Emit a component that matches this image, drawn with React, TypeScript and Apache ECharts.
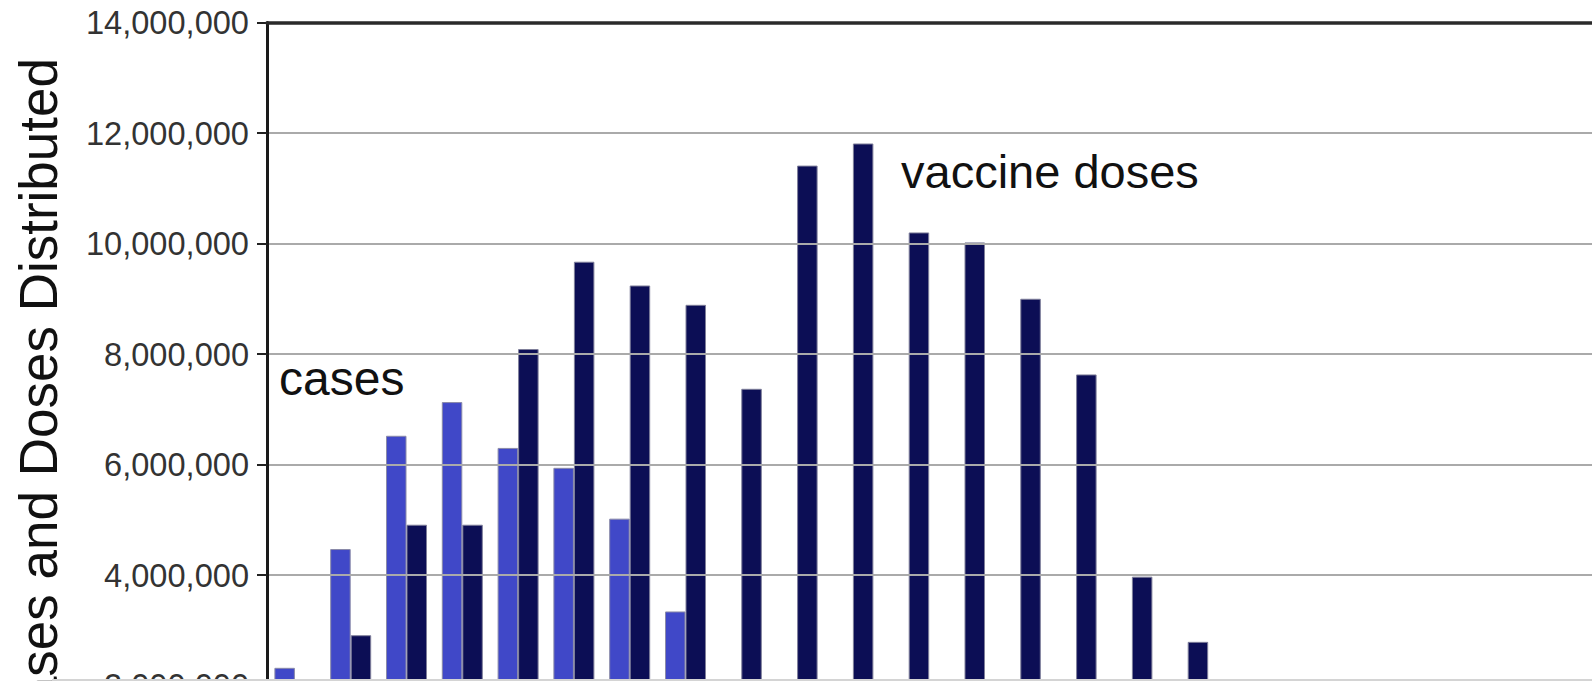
import React, { useEffect, useRef } from "react";
import * as echarts from "echarts";

const categories = [
  "1", "2", "3", "4", "5", "6", "7", "8", "9", "10", "11", "12",
  "13", "14", "15", "16", "17", "18", "19", "20", "21", "22", "23", "24",
];

const casesValues = [
  2320000, 4470000, 6520000, 7130000, 6300000, 5940000, 5020000, 3340000,
  null, null, null, null, null, null, null, null, null, null, null, null, null, null, null, null,
];

const dosesValues = [
  null, 2910000, 4910000, 4910000, 8090000, 9670000, 9240000, 8890000,
  7370000, 11410000, 11810000, 10200000, 10020000, 9000000, 7630000, 3970000, 2790000,
  null, null, null, null, null, null, null,
];

const yTicks = { min: 0, max: 14000000, interval: 2000000 };

const axisTitle = "Cases and Doses Distributed";
const casesLabel = "cases";
const dosesLabel = "vaccine doses";

const FONT = "'Liberation Sans', Arial, Helvetica, sans-serif";

const CHART_W = 1610;
const CHART_H = 830;

export default function App() {
  const ref = useRef<HTMLDivElement | null>(null);

  useEffect(() => {
    document.body.style.margin = "0";
    if (!ref.current) return;
    const chart = echarts.init(ref.current, undefined, { renderer: "svg" });
    const option: any = {
      animation: false,
      backgroundColor: "#ffffff",
      grid: { left: 267, top: 22.5, right: CHART_W - 267 - 1339.2, bottom: CHART_H - 796 },
      xAxis: [
        {
          type: "category",
          data: categories,
          axisLine: { show: false },
          axisTick: { show: false },
          axisLabel: { show: false },
          splitLine: { show: false },
        },
        {
          type: "category",
          data: categories,
          position: "top",
          axisLine: { show: true, lineStyle: { color: "#2a2a2a", width: 3.5 } },
          axisTick: { show: false },
          axisLabel: { show: false },
          splitLine: { show: false },
          z: 5,
        },
      ],
      yAxis: {
        type: "value",
        min: yTicks.min,
        max: yTicks.max,
        interval: yTicks.interval,
        axisLine: { show: true, lineStyle: { color: "#1a1a1a", width: 3 } },
        axisTick: { show: true, length: 10, lineStyle: { color: "#222", width: 2 } },
        axisLabel: {
          margin: 18,
          fontSize: 32.6,
          color: "#333",
          fontFamily: FONT,
          formatter: (v: number) => v.toLocaleString("en-US"),
        },
        splitLine: { show: true, lineStyle: { color: "#aaaaaa", width: 2 } },
        z: 4,
      },
      series: [
        {
          name: "cases",
          type: "bar",
          data: casesValues,
          barWidth: 20.5,
          barGap: "0%",
          itemStyle: { color: "#4048C8", borderColor: "#8a8aa8", borderWidth: 1 },
        },
        {
          name: "vaccine doses",
          type: "bar",
          data: dosesValues,
          barWidth: 20.5,
          barGap: "0%",
          itemStyle: { color: "#0C0E55", borderColor: "#7f7f9a", borderWidth: 1 },
        },
      ],
      graphic: [
        {
          type: "text",
          x: 38.6,
          y: 58,
          rotation: Math.PI / 2,
          style: {
            text: axisTitle,
            font: `53px ${FONT}`,
            fill: "#111",
            align: "right",
            verticalAlign: "middle",
            textAlign: "right",
            textVerticalAlign: "middle",
          },
        },
        {
          type: "text",
          x: 279,
          y: 378,
          style: {
            text: casesLabel,
            font: `48px ${FONT}`,
            fill: "#111",
            align: "left",
            verticalAlign: "middle",
            textAlign: "left",
            textVerticalAlign: "middle",
          },
        },
        {
          type: "text",
          x: 901,
          y: 171,
          style: {
            text: dosesLabel,
            font: `47px ${FONT}`,
            fill: "#111",
            align: "left",
            verticalAlign: "middle",
            textAlign: "left",
            textVerticalAlign: "middle",
          },
        },
        {
          type: "line",
          shape: { x1: 52, y1: 680, x2: 1592, y2: 680 },
          style: { stroke: "#d4d4d4", lineWidth: 2 },
          z: 100,
        },
      ],
    };
    chart.setOption(option);
    return () => chart.dispose();
  }, []);

  return (
    <div style={{ width: 1592, height: 681, overflow: "hidden", position: "relative" }}>
      <div ref={ref} style={{ width: CHART_W, height: CHART_H }} />
    </div>
  );
}
